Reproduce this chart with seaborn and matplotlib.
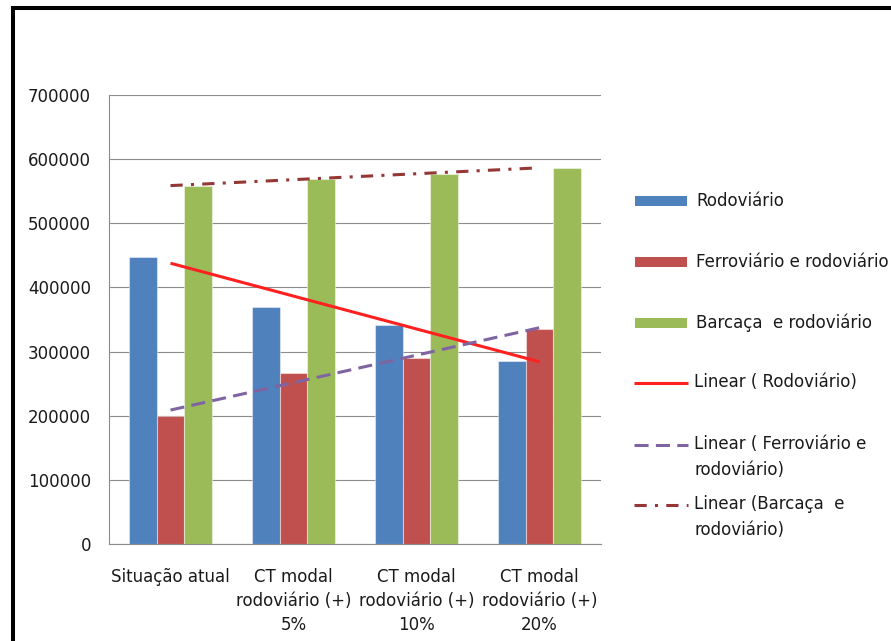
import numpy as np
import pandas as pd
import seaborn as sns
import matplotlib
matplotlib.use("Agg")
import matplotlib.pyplot as plt
from matplotlib.patches import Rectangle
from matplotlib.lines import Line2D

# Scenario labels and transport cost per modal
cenarios = ["Situação atual",
            "CT modal\nrodoviário (+)\n5%",
            "CT modal\nrodoviário (+)\n10%",
            "CT modal\nrodoviário (+)\n20%"]
modais = ["Rodoviário", "Ferroviário e rodoviário", "Barcaça  e rodoviário"]
rodoviario = [447000, 369500, 341500, 285500]
ferroviario = [200000, 267000, 290000, 335000]
barcaca = [558000, 569500, 576500, 586500]

cores = ["#4F81BD", "#C0504D", "#9BBB59"]
tendencia_cores = ["#FF2020", "#8064A2", "#953735"]
tendencia_nomes = ["Linear ( Rodoviário)",
                   "Linear ( Ferroviário e\nrodoviário)",
                   "Linear (Barcaça  e\nrodoviário)"]
y_ticks = [0, 100000, 200000, 300000, 400000, 500000, 600000, 700000]

df = pd.DataFrame({
    "cenario": cenarios * 3,
    "modal": [m for m in modais for _ in cenarios],
    "valor": rodoviario + ferroviario + barcaca,
})

sns.set_theme(style="white")
plt.rcParams["font.family"] = ["DejaVu Sans"]
FS = 12

W, H = 891, 641
fig = plt.figure(figsize=(W / 100, H / 100), dpi=100)
ax = fig.add_axes([109 / W, 1 - 544 / H, (601 - 109) / W, (544 - 95) / H])

sns.barplot(data=df, x="cenario", y="valor", hue="modal", palette=cores,
            width=0.67, gap=0, saturation=1, legend=False, ax=ax,
            edgecolor=(1, 1, 1, 0.45), linewidth=0.8, zorder=2)

# Linear trend lines fitted on each series
x = np.arange(len(cenarios))
estilos = [dict(linestyle="-"),
           dict(dashes=(4.6, 2.4)),
           dict(dashes=(4, 2.7, 1, 2.7))]
for serie, cor, est in zip([rodoviario, ferroviario, barcaca], tendencia_cores, estilos):
    coef = np.polyfit(x, serie, 1)
    xs = np.array([x[0], x[-1]])
    ax.plot(xs, np.polyval(coef, xs), color=cor, lw=2.2, zorder=3,
            solid_capstyle="butt", **est)

ax.set_xlim(-0.5, len(cenarios) - 0.5)
ax.set_ylim(0, 700000)
ax.set_yticks(y_ticks)
ax.set_yticklabels([str(v) for v in y_ticks])
ax.set_xlabel("")
ax.set_ylabel("")
ax.yaxis.grid(True, color="#8C8C8C", linewidth=0.8, zorder=0)
ax.xaxis.grid(False)
ax.set_axisbelow(True)
for s in ["top", "right"]:
    ax.spines[s].set_visible(False)
for s in ["left", "bottom"]:
    ax.spines[s].set_color("#8C8C8C")
    ax.spines[s].set_linewidth(0.8)
ax.tick_params(axis="y", length=0, pad=13, labelsize=FS, labelcolor="#1a1a1a")
ax.tick_params(axis="x", length=0, pad=17, labelsize=FS, labelcolor="#1a1a1a")
for t in ax.get_xticklabels():
    t.set_linespacing(1.45)

# Legend entries on the right
def fy(py):
    return 1 - py / H

def fx(px):
    return px / W

for cor, nome, py in zip(cores, modais, [201, 262, 323]):
    fig.add_artist(Rectangle((fx(635), fy(py + 5)), fx(687) - fx(635), 10 / H,
                             transform=fig.transFigure, facecolor=cor,
                             edgecolor="none"))
    fig.text(fx(696), fy(py), nome, fontsize=FS, va="center", ha="left",
             color="#1a1a1a")

for cor, est, nome, py in zip(tendencia_cores, estilos, tendencia_nomes, [383, 445, 505]):
    fig.add_artist(Line2D([fx(634), fx(688)], [fy(py), fy(py)],
                          transform=fig.transFigure, color=cor, lw=2.2,
                          solid_capstyle="butt", **est))
    fig.text(fx(694), fy(py - 10), nome, fontsize=FS, va="top", ha="left",
             linespacing=1.55, color="#1a1a1a")

# Outer frame
fig.add_artist(Rectangle((fx(13), -0.2), 2, fy(8) + 0.2,
                         transform=fig.transFigure, fill=False,
                         edgecolor="black", linewidth=2.9, clip_on=False))

fig.savefig("out.png", dpi=100)
